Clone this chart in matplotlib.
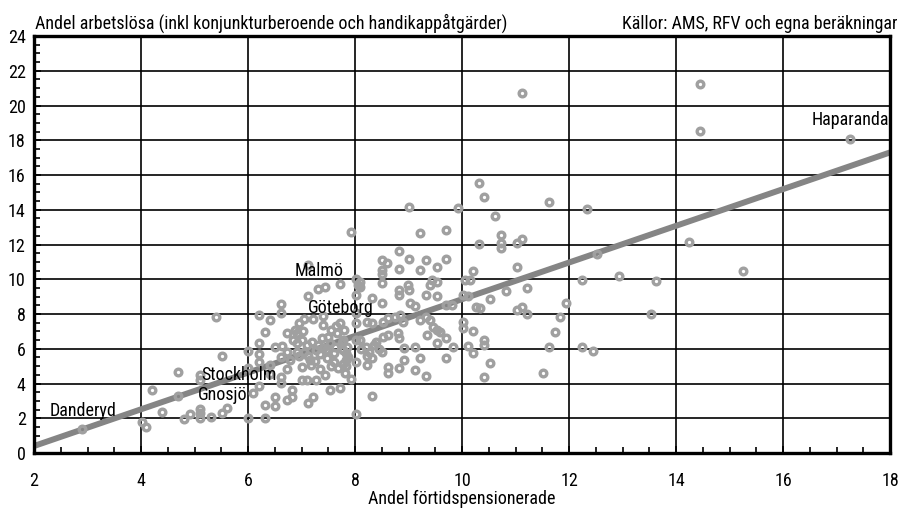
import numpy as np
import matplotlib
matplotlib.use("Agg")
from matplotlib import pyplot as plt
from matplotlib.ticker import MultipleLocator

plt.rcParams['font.family'] = ['Roboto Condensed', 'DejaVu Sans']

# andel förtidspensionerade (x) och andel arbetslösa (y) per kommun
andel_fortid = [
    2.89, 4.01, 4.10, 4.20, 4.40, 4.70, 4.70, 4.80, 4.92,
    5.10, 5.10, 5.10, 5.10, 5.10, 5.31, 5.41, 5.51, 5.51, 5.61,
    6.00, 6.00, 6.00, 6.10, 6.21, 6.21, 6.21, 6.21, 6.21,
    6.32, 6.32, 6.32, 6.41, 6.41, 6.41, 6.50, 6.50, 6.50,
    6.61, 6.61, 6.61, 6.61, 6.61, 6.63, 6.72, 6.72, 6.72, 6.72,
    6.79, 6.82, 6.82, 6.91, 6.91, 6.91, 7.00, 7.00, 7.03, 7.10,
    7.10, 7.13, 7.13, 7.13, 7.16, 7.19, 7.22, 7.22, 7.28, 7.28,
    7.31, 7.35, 7.38, 7.41, 7.41, 7.41, 7.44, 7.44, 7.47, 7.53,
    7.53, 7.60, 7.60, 7.66, 7.68, 7.72, 7.72, 7.72, 7.78, 7.78,
    7.79, 7.82, 7.84, 7.84, 7.92, 7.92, 8.02, 8.02, 8.02, 8.02,
    8.02, 8.02, 8.05, 8.10, 8.10, 8.22, 8.22, 8.31, 8.31, 8.31,
    8.40, 8.45, 8.50, 8.50, 8.51, 8.51, 8.51, 8.51, 8.53, 8.53,
    8.62, 8.62, 8.62, 8.62, 8.60, 8.75, 8.82, 8.82, 8.82, 8.82,
    8.83, 8.83, 8.84, 8.81, 8.90, 8.92, 8.92, 8.99, 9.01, 9.01,
    9.01, 9.03, 9.12, 9.12, 9.12, 9.21, 9.21, 9.21, 9.21,
    9.32, 9.32, 9.33, 9.34, 9.33, 9.40, 9.40, 9.46, 9.53,
    9.53, 9.53, 9.43, 9.53, 9.59, 9.53, 9.71, 9.71, 9.71, 9.71,
    9.71, 9.81, 9.84, 9.93,
    10.02, 10.12, 10.05, 10.15, 10.02, 10.02, 10.12, 10.21, 10.21,
    10.21, 10.27, 10.34, 10.32, 10.32, 10.42, 10.42, 10.42, 10.42,
    10.52, 10.52, 10.62, 10.72, 10.72, 10.72, 10.82, 11.02, 11.02,
    11.02, 11.12, 11.13, 11.13, 11.22, 11.22, 11.52, 11.63, 11.63,
    11.74, 11.83, 11.94, 12.24, 12.24, 12.33, 12.44, 12.53, 12.94,
    13.53, 13.63, 14.24, 14.44, 14.44, 15.25, 17.25,
    7.76, 7.85, 7.86, 7.77, 7.84, 8.10, 8.12, 8.20, 8.27, 8.23, 8.32, 8.36,
    6.85, 6.95, 7.05, 7.12, 7.18, 7.25, 7.30, 7.35, 7.45, 7.50, 7.55, 7.62,
    7.65, 7.55, 6.95, 7.05, 6.87, 7.00, 8.02,
]
andel_arbetslos = [
    1.36, 1.80, 1.48, 3.63, 2.34, 4.64, 3.30, 1.96, 2.24,
    4.49, 4.20, 2.55, 2.30, 2.00, 2.05, 7.81, 5.58, 2.28, 2.57,
    5.89, 4.87, 2.00, 3.43, 7.94, 6.35, 5.70, 5.26, 3.86,
    6.98, 2.76, 2.00, 7.65, 5.06, 4.55, 6.12, 3.24, 2.70,
    8.58, 8.04, 5.51, 4.36, 4.01, 6.16, 6.89, 5.83, 4.81, 3.05,
    5.35, 3.63, 3.24, 6.89, 6.31, 5.83, 4.97, 4.20, 7.04, 6.22,
    4.20, 9.04, 10.82, 2.86, 5.35, 6.41, 7.69, 3.20, 5.93, 4.20,
    9.42, 4.81, 6.60, 7.37, 7.88, 6.03, 9.57, 4.49, 5.45, 6.31,
    3.63, 5.74, 5.26, 6.89, 4.87, 9.73, 7.50, 3.72, 5.93, 6.50,
    7.09, 4.60, 5.74, 5.35, 4.24, 12.74, 2.24, 5.26, 7.46, 8.04,
    9.09, 10.00, 9.67, 9.86, 9.57, 5.06, 7.56, 3.28, 7.46, 8.90,
    6.40, 6.00, 5.80, 8.62, 9.77, 11.11, 10.55, 10.30, 7.56, 6.69,
    7.75, 6.79, 4.93, 4.62, 10.95, 7.85, 9.38, 9.09, 11.63, 10.57,
    6.60, 4.87, 7.94, 6.89, 7.56, 5.35, 6.03, 9.67, 14.14, 11.15,
    9.38, 8.62, 8.46, 6.12, 4.78, 12.68, 10.53, 7.65, 5.45,
    11.11, 9.09, 7.85, 6.79, 4.43, 9.67, 7.65, 7.27, 10.73,
    9.04, 9.86, 9.96, 6.31, 6.98, 7.08, 12.83, 11.17, 6.60, 5.45,
    8.52, 8.52, 6.12, 14.08,
    9.09, 9.04, 9.96, 9.96, 7.56, 7.18, 6.16, 10.49, 7.04,
    5.74, 8.42, 8.33, 15.52, 12.02, 14.75, 6.50, 6.22, 4.39,
    8.88, 5.18, 13.62, 12.55, 12.08, 11.82, 9.30, 12.07, 10.73,
    8.23, 20.74, 12.30, 8.42, 9.48, 8.00, 4.60, 14.46, 6.12,
    6.98, 7.83, 8.61, 9.96, 6.12, 14.03, 5.85, 11.44, 10.17,
    7.98, 9.90, 12.13, 21.26, 18.56, 10.49, 18.05,
    6.35, 6.10, 5.55, 5.10, 4.98, 6.50, 5.98, 6.10, 5.80, 5.60, 5.45, 6.20,
    6.50, 5.60, 5.80, 5.60, 5.05, 5.30, 6.20, 5.70, 5.90, 6.70, 5.00, 6.10,
    7.30, 7.10, 7.50, 7.70, 7.10, 6.50, 6.50,
]

# regressionslinje (lutning, intercept)
lutning = 1.056
intercept = -1.71

kommuner = ["Danderyd", "Stockholm", "Gnosjö", "Malmö", "Göteborg", "Haparanda"]
etikett_pos = {"Danderyd": (2.3, 2.42), "Stockholm": (5.13, 4.49), "Gnosjö": (5.07, 3.31),
               "Malmö": (6.88, 10.45), "Göteborg": (7.12, 8.37), "Haparanda": (17.98, 19.14)}

fs = 13

fig = plt.figure(figsize=(9.02, 5.11), dpi=100)
ax = fig.add_axes([34/902, 1 - 453/511, (890-34)/902, (453-36)/511])

ax.set_xlim(2, 18)
ax.set_ylim(0, 24)

# gridlines
ax.grid(True, color='black', linewidth=1.2, zorder=1)
ax.set_axisbelow(True)

xs = np.array([2, 18])
ax.plot(xs, intercept + lutning*xs, color='#858585', linewidth=4.3, solid_capstyle='butt', zorder=3)

ax.plot(andel_fortid, andel_arbetslos, linestyle='none', marker='o', markersize=4.8,
        markerfacecolor='none', markeredgecolor='#a0a0a0', markeredgewidth=2.4, zorder=4)

for namn in kommuner:
    px, py = etikett_pos[namn]
    ha = 'right' if namn == "Haparanda" else 'left'
    ax.text(px, py, namn, fontsize=fs, ha=ha, va='center', zorder=5)

ax.xaxis.set_major_locator(MultipleLocator(2))
ax.xaxis.set_minor_locator(MultipleLocator(0.5))
ax.yaxis.set_major_locator(MultipleLocator(2))
ax.yaxis.set_minor_locator(MultipleLocator(0.5))
ax.tick_params(axis='both', which='both', direction='in', labelsize=fs, width=1.2)
ax.tick_params(axis='both', which='major', length=5)
ax.tick_params(axis='both', which='minor', length=4)
ax.tick_params(axis='x', which='major', pad=14)
ax.tick_params(axis='y', which='major', pad=6)

for s in ax.spines.values():
    s.set_linewidth(2.4)
    s.set_zorder(6)

fig.text(35/902, 1 - 29/511, "Andel arbetslösa (inkl konjunkturberoende och handikappåtgärder)",
         fontsize=fs, ha='left', va='baseline')
fig.text(897/902, 1 - 29/511, "Källor: AMS, RFV och egna beräkningar",
         fontsize=fs, ha='right', va='baseline')
fig.text(462/902, 1 - 504/511, "Andel förtidspensionerade", fontsize=fs, ha='center', va='baseline')

fig.savefig("out.png", dpi=100)
